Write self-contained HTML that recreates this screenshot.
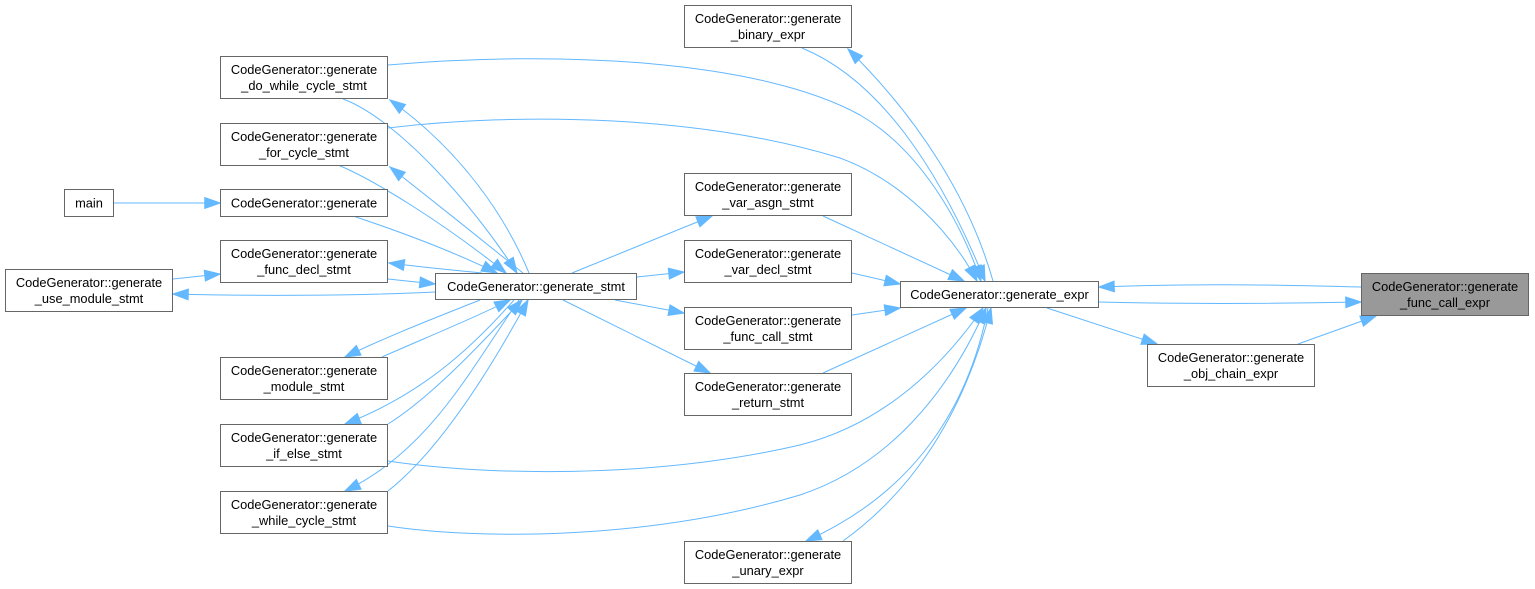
<!DOCTYPE html>
<html>
<head>
<meta charset="utf-8">
<style>
  html, body { margin: 0; padding: 0; background: #ffffff; }
  body { width: 1535px; height: 589px; overflow: hidden; position: relative; }
  svg { position: absolute; left: 0; top: 0; }
  text { font-family: "Liberation Sans", Arial, sans-serif; font-size: 12.85px; fill: #000000; text-anchor: middle; }
  .n { fill: #ffffff; stroke: #666666; stroke-width: 1; }
  .h { fill: #999999; stroke: #666666; stroke-width: 1; }
  .e { fill: none; stroke: #63b8ff; stroke-width: 1; marker-end: url(#arr); }
</style>
</head>
<body>
<svg width="1535" height="589" viewBox="0 0 1535 589" xmlns="http://www.w3.org/2000/svg">
  <defs>
    <marker id="arr" markerUnits="userSpaceOnUse" markerWidth="18" markerHeight="14" viewBox="-1 -1 16 12" refX="13.5" refY="4.7" orient="auto">
      <path d="M0,0 L13.5,4.7 L0,9.4 z" fill="#63b8ff" stroke="#63b8ff" stroke-width="1"/>
    </marker>
  </defs>

  <!-- ===== Edges ===== -->
  <!-- main -> generate -->
  <path class="e" d="M114,203 L220,203"/>
  <!-- generate -> stmt -->
  <path class="e" d="M353,216 C395,230 450,250 497,273"/>
  <!-- do_while -> stmt -->
  <path class="e" d="M343,99 C395,118 470,200 517,273"/>
  <!-- stmt -> do_while -->
  <path class="e" d="M529,273 C505,215 460,150 390,100"/>
  <!-- for_cycle -> stmt -->
  <path class="e" d="M338,165 C370,178 440,220 506,273"/>
  <!-- stmt -> for_cycle -->
  <path class="e" d="M523,273 C482,240 432,200 390,167"/>
  <!-- stmt -> func_decl -->
  <path class="e" d="M482,273 C452,270 420,267 389,263"/>
  <!-- func_decl -> stmt -->
  <path class="e" d="M388,279 L435,284"/>
  <!-- use_module -> func_decl -->
  <path class="e" d="M173,279 L220,274"/>
  <!-- stmt -> use_module -->
  <path class="e" d="M435,292 C350,296 250,296 173,294"/>
  <!-- stmt -> module -->
  <path class="e" d="M480,300 C440,316 390,335 345,357"/>
  <!-- module -> stmt -->
  <path class="e" d="M382,357 C420,340 470,320 510,300"/>
  <!-- stmt -> if_else -->
  <path class="e" d="M514,300 C470,350 420,395 345,424"/>
  <!-- if_else -> stmt -->
  <path class="e" d="M388,424 C430,398 480,345 522,300"/>
  <!-- stmt -> while -->
  <path class="e" d="M519,300 C470,370 430,450 345,491"/>
  <!-- while -> stmt -->
  <path class="e" d="M388,491 C440,450 490,370 528,300"/>

  <!-- long curves to generate_expr -->
  <path class="e" d="M388,65 C560,50 760,60 860,115 C920,150 960,220 981,281"/>
  <path class="e" d="M388,128 C520,112 700,115 840,158 C900,180 950,230 977,281"/>
  <path class="e" d="M388,461 C480,475 650,480 800,445 C880,425 940,370 983,308"/>
  <path class="e" d="M388,526 C480,540 650,540 800,495 C890,465 950,390 986,308"/>

  <!-- stmt -> middle column -->
  <path class="e" d="M572,273 L712,216"/>
  <path class="e" d="M637,277 L684,272"/>
  <path class="e" d="M615,300 L684,313"/>
  <path class="e" d="M563,300 L710,373"/>

  <!-- middle column -> expr -->
  <path class="e" d="M823,216 L964,281"/>
  <path class="e" d="M852,273 L900,284"/>
  <path class="e" d="M852,315 L900,308"/>
  <path class="e" d="M823,373 L966,308"/>

  <!-- binary -->
  <path class="e" d="M802,48 C880,80 940,170 985,281"/>
  <path class="e" d="M993,281 C970,200 920,120 848,49"/>
  <!-- unary -->
  <path class="e" d="M988,308 C970,400 920,490 806,541"/>
  <path class="e" d="M843,541 C900,500 960,430 991,308"/>

  <!-- expr <-> func_call_expr -->
  <path class="e" d="M1361,287 C1250,284 1180,284 1099,287"/>
  <path class="e" d="M1099,302 C1180,304 1260,304 1361,302"/>
  <!-- expr -> obj_chain -> func_call_expr -->
  <path class="e" d="M1047,308 L1157,344"/>
  <path class="e" d="M1298,344 L1376,316"/>

  <!-- ===== Nodes ===== -->
  <rect class="n" x="64.5" y="189.5" width="49" height="27"/>
  <text x="89" y="207.5">main</text>

  <rect class="n" x="220.5" y="189.5" width="167" height="27"/>
  <text x="304" y="207.5">CodeGenerator::generate</text>

  <rect class="n" x="220.5" y="56.5" width="167" height="42"/>
  <text x="304" y="74">CodeGenerator::generate</text>
  <text x="304" y="90">_do_while_cycle_stmt</text>

  <rect class="n" x="220.5" y="123.5" width="167" height="42"/>
  <text x="304" y="141">CodeGenerator::generate</text>
  <text x="304" y="157">_for_cycle_stmt</text>

  <rect class="n" x="220.5" y="240.5" width="167" height="42"/>
  <text x="304" y="258">CodeGenerator::generate</text>
  <text x="304" y="274">_func_decl_stmt</text>

  <rect class="n" x="5.5" y="269.5" width="167" height="42"/>
  <text x="89" y="287">CodeGenerator::generate</text>
  <text x="89" y="303">_use_module_stmt</text>

  <rect class="n" x="220.5" y="357.5" width="167" height="42"/>
  <text x="304" y="375">CodeGenerator::generate</text>
  <text x="304" y="391">_module_stmt</text>

  <rect class="n" x="220.5" y="424.5" width="167" height="42"/>
  <text x="304" y="442">CodeGenerator::generate</text>
  <text x="304" y="458">_if_else_stmt</text>

  <rect class="n" x="220.5" y="491.5" width="167" height="42"/>
  <text x="304" y="509">CodeGenerator::generate</text>
  <text x="304" y="525">_while_cycle_stmt</text>

  <rect class="n" x="435.5" y="273.5" width="201" height="26"/>
  <text x="536" y="291">CodeGenerator::generate_stmt</text>

  <rect class="n" x="684.5" y="5.5" width="167" height="42"/>
  <text x="768" y="23">CodeGenerator::generate</text>
  <text x="768" y="39">_binary_expr</text>

  <rect class="n" x="684.5" y="173.5" width="167" height="42"/>
  <text x="768" y="191">CodeGenerator::generate</text>
  <text x="768" y="207">_var_asgn_stmt</text>

  <rect class="n" x="684.5" y="240.5" width="167" height="42"/>
  <text x="768" y="258">CodeGenerator::generate</text>
  <text x="768" y="274">_var_decl_stmt</text>

  <rect class="n" x="684.5" y="307.5" width="167" height="42"/>
  <text x="768" y="325">CodeGenerator::generate</text>
  <text x="768" y="341">_func_call_stmt</text>

  <rect class="n" x="684.5" y="373.5" width="167" height="42"/>
  <text x="768" y="391">CodeGenerator::generate</text>
  <text x="768" y="407">_return_stmt</text>

  <rect class="n" x="684.5" y="541.5" width="167" height="42"/>
  <text x="768" y="559">CodeGenerator::generate</text>
  <text x="768" y="575">_unary_expr</text>

  <rect class="n" x="900.5" y="281.5" width="198" height="26"/>
  <text x="999.5" y="299">CodeGenerator::generate_expr</text>

  <rect class="h" x="1361.5" y="273.5" width="167" height="42"/>
  <text x="1445" y="291">CodeGenerator::generate</text>
  <text x="1445" y="307">_func_call_expr</text>

  <rect class="n" x="1147.5" y="344.5" width="167" height="42"/>
  <text x="1231" y="362">CodeGenerator::generate</text>
  <text x="1231" y="378">_obj_chain_expr</text>
</svg>
</body>
</html>
